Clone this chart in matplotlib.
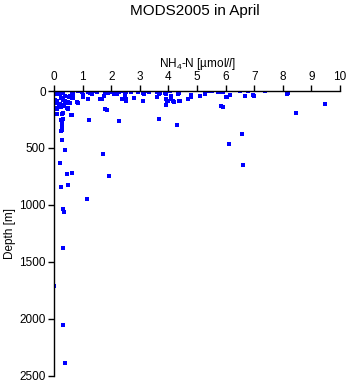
import matplotlib.pyplot as plt

plt.rcParams['font.family'] = ['Liberation Sans', 'DejaVu Sans']
plt.rcParams['mathtext.fontset'] = 'custom'
plt.rcParams['mathtext.rm'] = 'Liberation Sans'
plt.rcParams['mathtext.it'] = 'Liberation Sans:italic'

# NH4-N samples (umol/l) and sampling depth (m)
nh4 = [
    # deep / scattered samples
    0.24, 0.28, 0.37, 1.72, 0.22, 0.44, 0.63, 1.93, 0.24, 0.50,
    1.17, 0.33, 0.35, 0.33, 0.01, 0.30, 0.37,
    1.21, 2.26, 0.60, 0.12, 0.33, 0.24, 0.33, 0.28, 0.28,
    9.48, 8.47, 6.58, 6.12, 6.62, 4.31, 3.68,
    # upper layer, x > 1.5
    8.13, 8.17, 7.38, 6.97, 6.99, 6.69, 6.79, 6.49, 6.17, 6.03,
    5.85, 5.90, 5.75, 5.90, 5.51, 5.41, 5.29, 5.12, 4.80, 4.80,
    4.70, 4.39, 4.21, 4.36, 4.35, 4.09, 4.10, 4.00, 3.93, 3.92,
    3.90, 4.07, 3.90, 3.61, 3.68, 3.61, 3.29, 3.31, 3.10, 3.15,
    3.10, 2.95, 2.81, 2.70, 2.52, 2.52, 2.52, 2.47, 2.39, 2.40,
    2.26, 2.19, 2.10, 2.04, 2.10, 1.98, 1.89, 1.78, 1.75, 1.67,
    1.80, 1.85, 2.31, 2.48, 2.50, 2.13, 3.12, 3.88, 3.96, 4.17,
    4.37, 3.71, 6.04, 5.89,
    # upper layer, x < 1.5
    0.03, 0.02, 0.27, 0.33, 0.21, 0.03, 0.09, 0.03, 0.33, 0.38,
    0.50, 0.56, 0.62, 0.67, 0.62, 0.79, 0.85, 0.97, 1.02, 1.20,
    1.26, 1.37, 1.32, 1.20, 1.49, 1.61, 0.12, 0.33, 0.44, 0.29,
    0.33, 0.29, 0.27, 0.62, 1.24, 0.12, 0.50, 0.21, 0.00, 0.09,
    0.24, 0.48, 0.56, 0.44, 0.83, 1.00, 0.67,
    0.15, 0.30, 0.40, 0.10, 0.26, 0.52, 0.19, 0.34,
]
depth = [
    349, 433, 518, 556, 629, 729, 720, 746, 846, 828,
    948, 1033, 1063, 1381, 1715, 2058, 2391,
    258, 264, 211, 205, 196, 255, 248, 307, 278,
    117, 196, 381, 468, 647, 296, 246,
    23, 20, 0, 32, 47, 41, 0, 0, 38, 55,
    132, 143, 9, 6, 0, 0, 29, 47, 32, 50,
    73, 90, 94, 15, 29, 41, 68, 88, 126, 70,
    29, 0, 0, 9, 24, 50, 0, 9, 9, 26,
    90, 6, 64, 6, 9, 88, 73, 47, 68, 0,
    9, 29, 29, 0, 0, 9, 20, 20, 44, 70,
    158, 170, 0, 6, 85, 15, 15, 15, 90, 90,
    90, 15, 53, 6,
    9, 15, 0, 15, 29, 79, 88, 103, 79, 88,
    94, 44, 15, 29, 59, 97, 0, 9, 38, 6,
    20, 0, 29, 73, 9, 68, 146, 132, 146, 205,
    249, 302, 343, 214, 258, 205, 155, 117, 82, 158,
    143, 146, 108, 103, 103, 50, 64,
    0, 8, 40, 30, 60, 55, 110, 120,
]

fig = plt.figure(figsize=(3.48, 3.84), dpi=100)
ax = fig.add_axes([0.1552, 0.0216, 0.8218, 0.7414])

ax.plot(nh4, depth, 's', color='#0000ff', mec='#0000ff', ms=2.2, mew=0)

ax.set_xlim(0, 10)
ax.set_ylim(2500, 0)
ax.set_xticks(range(0, 11))
ax.set_yticks([0, 500, 1000, 1500, 2000, 2500])

ax.xaxis.tick_top()
ax.xaxis.set_label_position('top')
ax.spines['right'].set_visible(False)
ax.spines['bottom'].set_visible(False)
for s in ('top', 'left'):
    ax.spines[s].set_linewidth(1.0)
ax.tick_params(direction='out', length=4, width=1.0, labelsize=8.5, pad=2)

ax.set_xlabel('NH$_4$-N [µmol/$l$]', fontsize=8.5, labelpad=3)
ax.set_ylabel('Depth [m]', fontsize=8.5, labelpad=2)

fig.text(0.56, 0.972, 'MODS2005 in April', ha='center', va='center', fontsize=11)

plt.savefig('out.png', dpi=100)
